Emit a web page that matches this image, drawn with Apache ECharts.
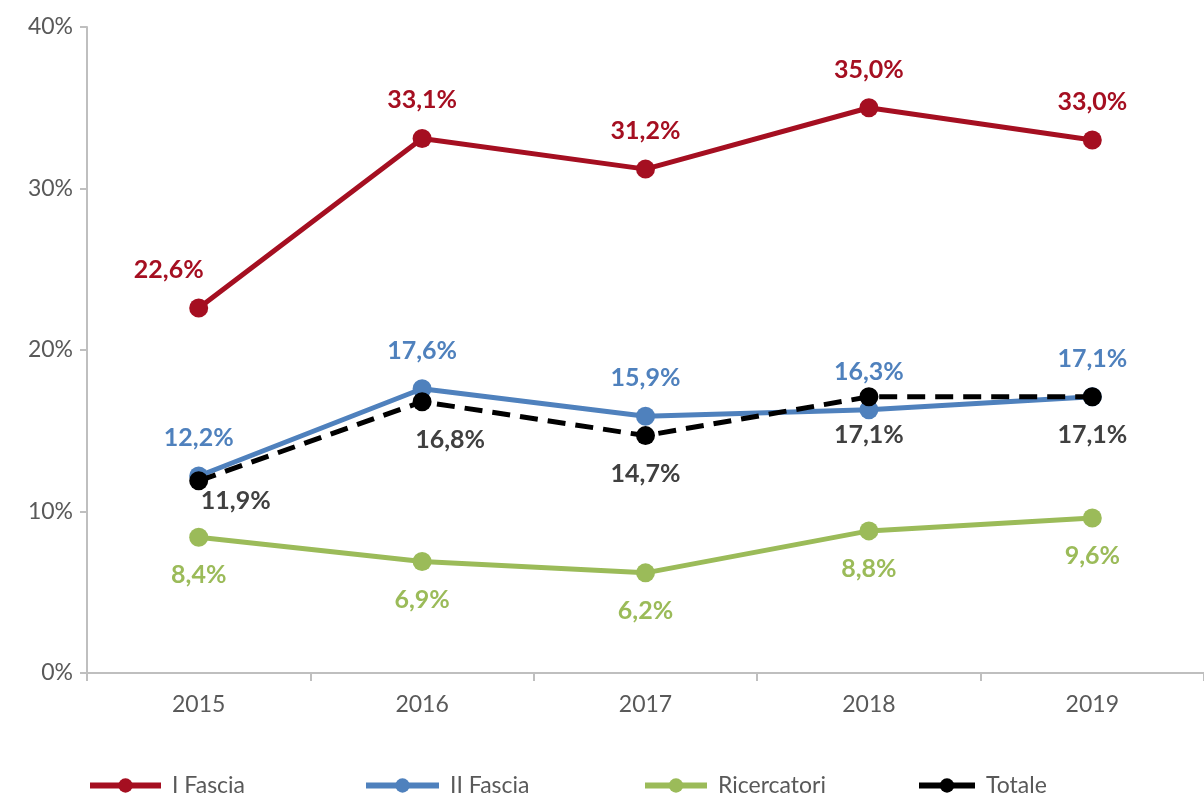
<!DOCTYPE html>
<html>
<head>
<meta charset="utf-8">
<script src="https://cdn.jsdelivr.net/npm/echarts@6/dist/echarts.min.js"></script>
<style>
  html, body { margin: 0; padding: 0; background: #fff; }
  #chart { width: 1204px; height: 795px; }
</style>
</head>
<body>
<div id="chart"></div>
<script>
// dati
var anni = ['2015', '2016', '2017', '2018', '2019'];
var primaFascia = [22.6, 33.1, 31.2, 35.0, 33.0];
var secondaFascia = [12.2, 17.6, 15.9, 16.3, 17.1];
var ricercatori = [8.4, 6.9, 6.2, 8.8, 9.6];
var totale = [11.9, 16.8, 14.7, 17.1, 17.1];
var yTicks = [0, 10, 20, 30, 40];

var FONT = 'Lato, "Open Sans", sans-serif';

function fmt(v) {
  return v.toFixed(1).replace('.', ',') + '%';
}

function labelCfg(color, pos) {
  return {
    show: true,
    position: pos,
    distance: 16,
    color: color,
    fontSize: 25,
    fontWeight: 'bold',
    fontFamily: FONT,
    formatter: function (p) { return fmt(p.value); }
  };
}

var myChart = echarts.init(document.getElementById('chart'));

var rosso = '#A50F21';
var blu = '#4F81BD';
var verde = '#9BBB59';
var nero = '#000000';

var series = [
  {
    name: 'I Fascia',
    type: 'line',
    data: primaFascia.map(function (v, i) {
      var d = { value: v };
      if (i === 0) d.label = { offset: [-30, 0] };
      return d;
    }),
    symbol: 'circle',
    symbolSize: 19,
    lineStyle: { color: rosso, width: 5 },
    itemStyle: { color: rosso },
    label: labelCfg(rosso, 'top'),
    z: 4
  },
  {
    name: 'II Fascia',
    type: 'line',
    data: secondaFascia,
    symbol: 'circle',
    symbolSize: 19,
    lineStyle: { color: blu, width: 5 },
    itemStyle: { color: blu },
    label: labelCfg(blu, 'top'),
    z: 3
  },
  {
    name: 'Ricercatori',
    type: 'line',
    data: ricercatori,
    symbol: 'circle',
    symbolSize: 19,
    lineStyle: { color: verde, width: 5 },
    itemStyle: { color: verde },
    label: labelCfg(verde, 'bottom'),
    z: 2
  },
  {
    name: 'Totale',
    type: 'line',
    data: totale.map(function (v, i) {
      var d = { value: v };
      if (i === 0) d.label = { offset: [37, -18] };
      if (i === 1) d.label = { offset: [28, 0] };
      return d;
    }),
    symbol: 'circle',
    symbolSize: 19,
    lineStyle: { color: nero, width: 5, type: [18, 10] },
    itemStyle: { color: nero },
    label: labelCfg('#404040', 'bottom'),
    z: 5
  }
];

var legendLeft = [87, 363, 642, 916];
var legendWidth = [71, 73, 62, 56];
var legends = series.map(function (s, i) {
  return {
    data: [s.name],
    left: legendLeft[i],
    top: 774,
    padding: 0,
    itemWidth: legendWidth[i],
    itemHeight: 18,
    lineStyle: { width: 6, type: 'solid' },
    textStyle: { color: '#595959', fontSize: 23, fontFamily: FONT, padding: [0, 0, 0, 6] },
    selectedMode: false
  };
});

var option = {
  animation: false,
  backgroundColor: '#ffffff',
  legend: legends,
  grid: {
    left: 87,
    top: 27,
    width: 1122,
    height: 646,
    containLabel: false
  },
  xAxis: {
    type: 'category',
    data: anni,
    boundaryGap: true,
    axisLine: { lineStyle: { color: '#bfbfbf', width: 2 } },
    axisTick: { show: true, length: 8, lineStyle: { color: '#bfbfbf', width: 2 } },
    axisLabel: { color: '#595959', fontSize: 23, fontFamily: FONT, margin: 20 }
  },
  yAxis: {
    type: 'value',
    min: yTicks[0],
    max: yTicks[yTicks.length - 1],
    interval: 10,
    axisLine: { show: true, lineStyle: { color: '#bfbfbf', width: 2 } },
    axisTick: { show: true, length: 7, lineStyle: { color: '#bfbfbf', width: 2 } },
    splitLine: { show: false },
    axisLabel: {
      color: '#595959', fontSize: 23, fontFamily: FONT, margin: 14,
      formatter: function (v) { return v + '%'; }
    }
  },
  series: series
};

myChart.setOption(option, true);
</script>
</body>
</html>
